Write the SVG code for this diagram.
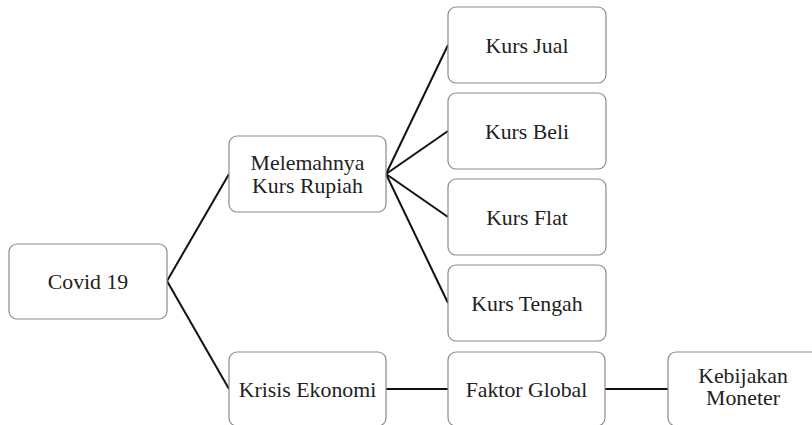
<svg xmlns="http://www.w3.org/2000/svg" width="812" height="425" viewBox="0 0 812 425">
<style>
.box{fill:#fff;stroke:#8a8a8a;stroke-width:1.2}
.t{font-family:"Liberation Serif","Times New Roman",serif;font-size:21.8px;fill:#222;text-anchor:middle}
.c{stroke:#111;stroke-width:2;fill:none}
</style>
<rect width="812" height="425" fill="#fff"/>
<g id="connectors">
<line class="c" x1="167" y1="281" x2="229" y2="174"/>
<line class="c" x1="167" y1="281" x2="229" y2="389"/>
<line class="c" x1="386" y1="174" x2="448" y2="45"/>
<line class="c" x1="386" y1="174" x2="448" y2="131"/>
<line class="c" x1="386" y1="174" x2="448" y2="217"/>
<line class="c" x1="386" y1="174" x2="448" y2="303"/>
<line class="c" x1="386" y1="389" x2="448" y2="389"/>
<line class="c" x1="605" y1="389" x2="668" y2="389"/>
</g>
<g id="covid19"><rect class="box" x="9" y="244" width="158" height="75" rx="8"/><text class="t" x="88" y="288.5">Covid 19</text></g>
<g id="melemahnya"><rect class="box" x="229" y="136" width="157" height="76" rx="8"/><text class="t" x="307.5" y="170">Melemahnya</text><text class="t" x="307.5" y="193">Kurs Rupiah</text></g>
<g id="kursjual"><rect class="box" x="448" y="7" width="158" height="76" rx="8"/><text class="t" x="527" y="52.5">Kurs Jual</text></g>
<g id="kursbeli"><rect class="box" x="448" y="93" width="158" height="76" rx="8"/><text class="t" x="527" y="138.5">Kurs Beli</text></g>
<g id="kursflat"><rect class="box" x="448" y="179" width="158" height="76" rx="8"/><text class="t" x="527" y="224.5">Kurs Flat</text></g>
<g id="kurstengah"><rect class="box" x="448" y="265" width="158" height="76" rx="8"/><text class="t" x="527" y="310.5">Kurs Tengah</text></g>
<g id="krisis"><rect class="box" x="229" y="352" width="157" height="74" rx="8"/><text class="t" x="307.5" y="396.5">Krisis Ekonomi</text></g>
<g id="faktor"><rect class="box" x="448" y="352" width="157" height="74" rx="8"/><text class="t" x="526.5" y="396.5">Faktor Global</text></g>
<g id="kebijakan"><rect class="box" x="668" y="352" width="157" height="74" rx="8"/><text class="t" x="743" y="383">Kebijakan</text><text class="t" x="743" y="405">Moneter</text></g>
</svg>
